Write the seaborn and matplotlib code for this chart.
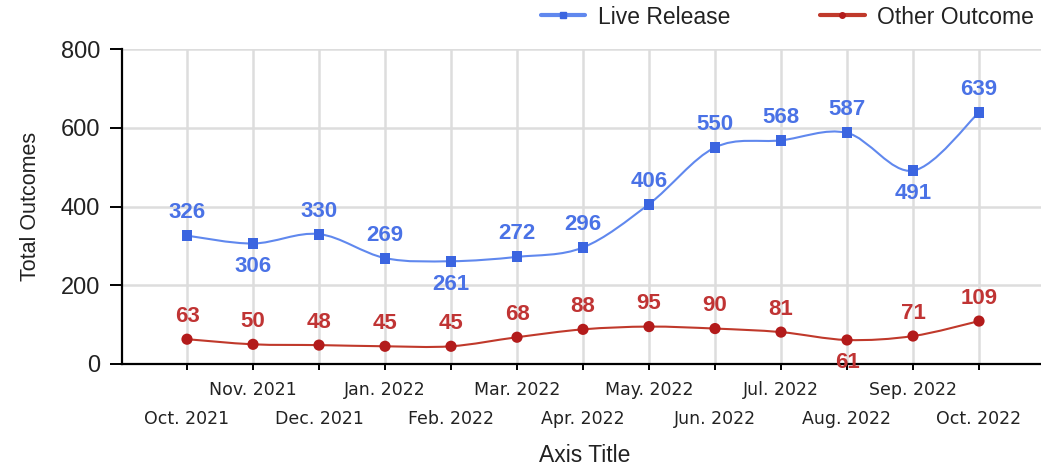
import numpy as np
import pandas as pd
import matplotlib
matplotlib.use("Agg")
import matplotlib.pyplot as plt
from matplotlib.path import Path
from matplotlib.patches import PathPatch
from matplotlib.lines import Line2D
import seaborn as sns

months = ["Oct. 2021", "Nov. 2021", "Dec. 2021", "Jan. 2022", "Feb. 2022", "Mar. 2022",
          "Apr. 2022", "May. 2022", "Jun. 2022", "Jul. 2022", "Aug. 2022", "Sep. 2022", "Oct. 2022"]
live_release = [326, 306, 330, 269, 261, 272, 296, 406, 550, 568, 587, 491, 639]
other_outcome = [63, 50, 48, 45, 45, 68, 88, 95, 90, 81, 61, 71, 109]
y_ticks = [0, 200, 400, 600, 800]

# style: which labels sit below their point
live_below = {1, 4, 11}
other_below = {10}

sns.set_theme(style="white")
plt.rcParams["font.family"] = ["Liberation Sans", "DejaVu Sans"]

W, H = 1041, 471
fig = plt.figure(figsize=(W / 100, H / 100), dpi=100)
ax = fig.add_axes([122 / W, 107 / H, (W - 122) / W, 315 / H])

x = np.arange(len(months))
df = pd.DataFrame({"month": months, "x": x, "Live Release": live_release,
                   "Other Outcome": other_outcome})

BLUE_M, BLUE_L, BLUE_T = "#3b65e0", "#6088ee", "#4a72e6"
RED_M, RED_L, RED_T = "#b31b1b", "#c0392b", "#c03434"


def smooth_path(xs, ys, k=1 / 6):
    xs = np.asarray(xs, float)
    ys = np.asarray(ys, float)
    n = len(xs)
    verts = [(xs[0], ys[0])]
    codes = [Path.MOVETO]
    for i in range(n - 1):
        p0 = (xs[max(i - 1, 0)], ys[max(i - 1, 0)])
        p1 = (xs[i], ys[i])
        p2 = (xs[i + 1], ys[i + 1])
        p3 = (xs[min(i + 2, n - 1)], ys[min(i + 2, n - 1)])
        c1 = (p1[0] + (p2[0] - p0[0]) * k, p1[1] + (p2[1] - p0[1]) * k)
        c2 = (p2[0] - (p3[0] - p1[0]) * k, p2[1] - (p3[1] - p1[1]) * k)
        verts += [c1, c2, p2]
        codes += [Path.CURVE4] * 3
    return Path(verts, codes)


for col, lc in (("Live Release", BLUE_L), ("Other Outcome", RED_L)):
    ax.add_patch(PathPatch(smooth_path(df["x"], df[col]), facecolor="none",
                           edgecolor=lc, lw=1.5, zorder=3))

sns.scatterplot(data=df, x="x", y="Live Release", marker="s", s=62, color=BLUE_M,
                edgecolor="none", ax=ax, zorder=4, legend=False)
sns.scatterplot(data=df, x="x", y="Other Outcome", marker="o", s=65, color=RED_M,
                edgecolor="none", ax=ax, zorder=4, legend=False)

off = 16.5
for i, v in enumerate(live_release):
    dy = -off if i in live_below else off
    ax.annotate(str(v), (x[i], v), xytext=(0, dy), textcoords="offset points",
                ha="center", va="center", fontsize=16, fontweight="bold",
                color=BLUE_T, zorder=5)
for i, v in enumerate(other_outcome):
    dy = -off if i in other_below else off
    ax.annotate(str(v), (x[i], v), xytext=(0, dy), textcoords="offset points",
                ha="center", va="center", fontsize=16, fontweight="bold",
                color=RED_T, zorder=5)

ax.set_xlim(-65 / 66, -65 / 66 + 919 / 66)
ax.set_ylim(0, 800)
ax.set_yticks(y_ticks)
ax.set_yticklabels([str(t) for t in y_ticks], fontsize=17, color="#222222")
ax.set_xticks(x)
ax.set_xticklabels(months, fontsize=12.5, color="#222222", family="DejaVu Sans")

ax.grid(True, color="#dddddd", lw=1.8, zorder=0)
ax.set_axisbelow(True)
for s in ("top", "right"):
    ax.spines[s].set_visible(False)
for s in ("left", "bottom"):
    ax.spines[s].set_color("black")
    ax.spines[s].set_linewidth(1.6)

ax.tick_params(axis="y", length=8.6, width=1.4, color="black", pad=7, left=True)
ax.tick_params(axis="x", length=4.3, width=1.4, color="black", bottom=True)
for i, t in enumerate(ax.xaxis.get_major_ticks()):
    t.set_pad(8 if i % 2 == 1 else 29)

ax.set_ylabel("Total Outcomes", fontsize=15.5, color="#222222")
ax.yaxis.set_label_coords(-0.088, 0.5)
ax.set_xlabel("Axis Title", fontsize=16.5, color="#222222")
ax.xaxis.set_label_coords(0.503, -0.255)
ax.xaxis.label.set_va("top")

handles = [Line2D([], [], color=BLUE_L, lw=3, marker="s", ms=5, markerfacecolor=BLUE_M,
                  markeredgecolor=BLUE_M),
           Line2D([], [], color=RED_L, lw=3, marker="o", ms=4, markerfacecolor=RED_M,
                  markeredgecolor=RED_M)]
fig.legend(handles, ["Live Release", "Other Outcome"], loc="center right",
           bbox_to_anchor=(1034 / W, 1 - 17 / H), ncol=2, frameon=False,
           fontsize=16.5, handlelength=1.95, handletextpad=0.55, columnspacing=3.9,
           borderpad=0, borderaxespad=0, labelcolor="#222222")

fig.savefig("out.png", dpi=100, facecolor="white")
